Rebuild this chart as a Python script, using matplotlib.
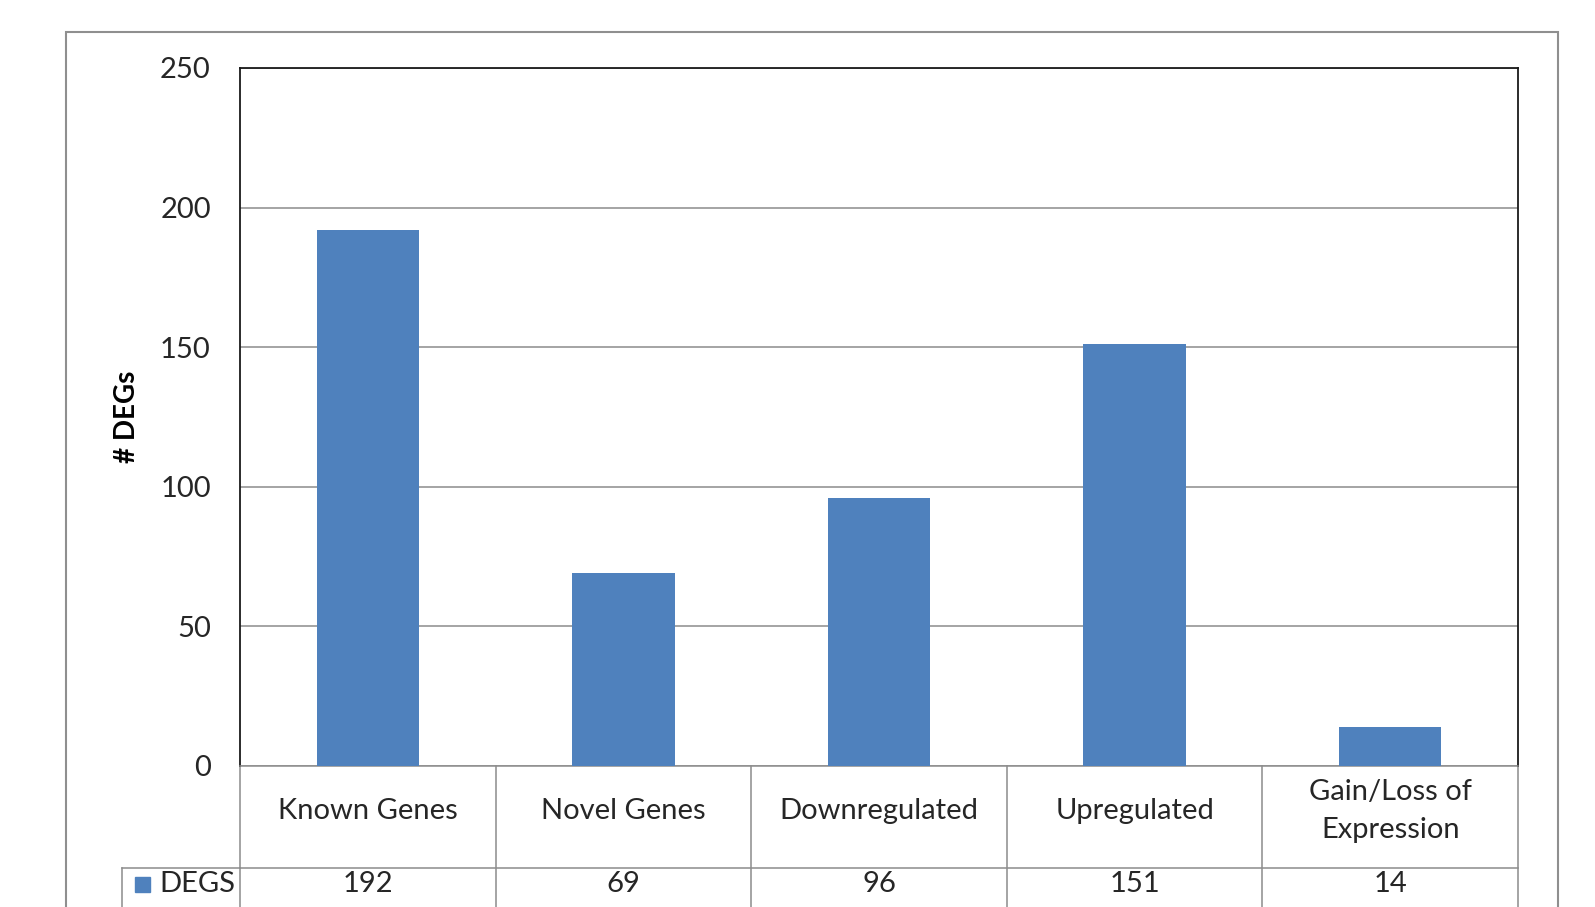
import matplotlib.pyplot as plt
from matplotlib.patches import Rectangle
from matplotlib.lines import Line2D

categories = ["Known Genes", "Novel Genes", "Downregulated", "Upregulated", "Gain/Loss of\nExpression"]
degs = [192, 69, 96, 151, 14]
series_name = "DEGS"
yticks = [0, 50, 100, 150, 200, 250]

W, H = 1595, 907
bar_color = "#4f81bd"
grid_color = "#8c8c8c"
txt_color = "#262626"
plt.rcParams['font.family'] = ['Lato', 'DejaVu Sans']

fig = plt.figure(figsize=(W / 100, H / 100), dpi=100)

# plot area in pixels
px_l, px_r, px_t, px_b = 240, 1518, 68, 766
ax = fig.add_axes([px_l / W, 1 - px_b / H, (px_r - px_l) / W, (px_b - px_t) / H])

x = range(len(categories))
ax.bar(x, degs, width=0.4, color=bar_color, zorder=3)
ax.set_xlim(-0.5, len(categories) - 0.5)
ax.set_ylim(0, 250)
ax.set_yticks(yticks)
ax.set_yticklabels([str(t) for t in yticks], fontsize=21, color=txt_color)
ax.tick_params(axis='y', length=0, pad=21)
ax.set_xticks([])
ax.grid(axis='y', color=grid_color, linewidth=1.1, zorder=0)
for side in ['top', 'right', 'left']:
    ax.spines[side].set_color('#1a1a1a')
    ax.spines[side].set_linewidth(1.3)
ax.spines['bottom'].set_color(grid_color)
ax.spines['bottom'].set_linewidth(1.1)

# data table under the plot
plot_h = px_b - px_t
row1 = -(868 - px_b) / plot_h
fig_bottom = -(H + 5 - px_b) / plot_h
trans = ax.get_xaxis_transform()
tline = dict(color=grid_color, linewidth=1.1, clip_on=False, transform=trans)
for i in range(len(categories) + 1):
    xb = i - 0.5
    ax.add_line(Line2D([xb, xb], [0, fig_bottom], **tline))
ax.add_line(Line2D([-0.5, len(categories) - 0.5], [row1, row1], **tline))

cat_y = -(811 - px_b) / plot_h
val_y = -(884 - px_b) / plot_h
for i, (c, v) in enumerate(zip(categories, degs)):
    ax.text(i, cat_y, c, transform=trans, ha='center', va='center',
            fontsize=21, color=txt_color, linespacing=1.55)
    ax.text(i, val_y, str(v), transform=trans, ha='center', va='center',
            fontsize=21, color=txt_color)

# legend key cell on the left of the value row
leg_l = 122
fig.add_artist(Line2D([leg_l / W, px_l / W], [1 - 868 / H, 1 - 868 / H],
                      color=grid_color, linewidth=1.1))
fig.add_artist(Line2D([leg_l / W, leg_l / W], [1 - 868 / H, -0.01],
                      color=grid_color, linewidth=1.1))
fig.add_artist(Rectangle((135 / W, 1 - 892 / H), 15 / W, 15 / H,
                         color=bar_color, transform=fig.transFigure))
fig.text(159 / W, 1 - 884 / H, series_name, ha='left', va='center',
         fontsize=21, color=txt_color)

# y axis title
fig.text(127 / W, 1 - 417 / H, "# DEGs", rotation=90, ha='center', va='center',
         fontsize=20, fontweight='bold', color='black')

# outer chart frame
fig.add_artist(Rectangle((66 / W, -0.02), (1558 - 66) / W, 0.02 + 1 - 32 / H,
                         fill=False, edgecolor='#8f8f8f', linewidth=1.5,
                         transform=fig.transFigure))

fig.savefig("out.png", dpi=100)
